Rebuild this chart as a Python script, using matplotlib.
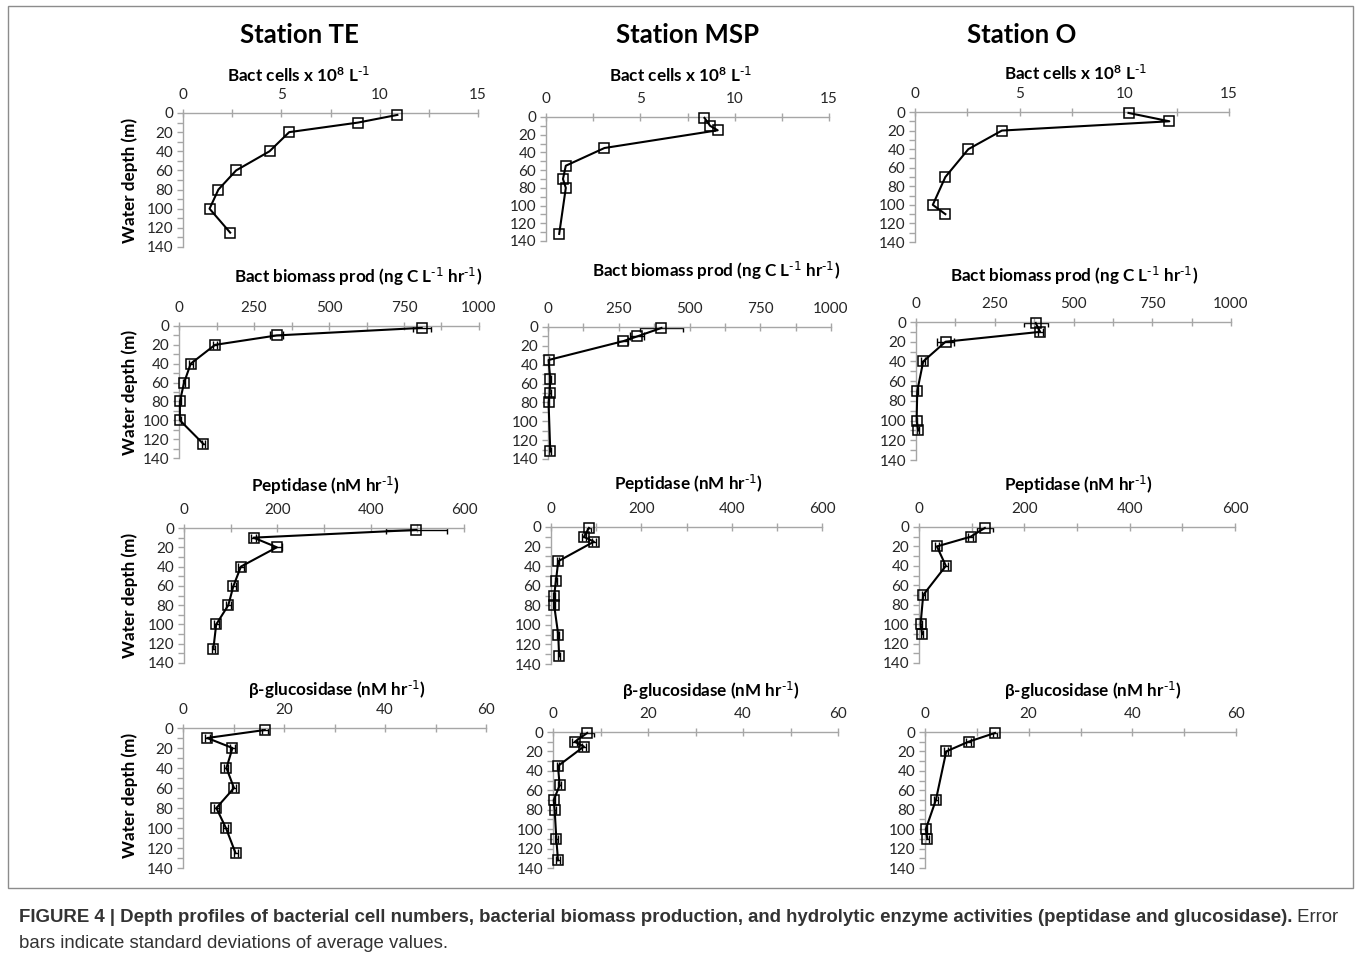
import matplotlib
matplotlib.use("Agg")
import matplotlib.pyplot as plt
from matplotlib.patches import Rectangle

plt.rcParams['font.family'] = ['Lato', 'DejaVu Sans']
plt.rcParams['mathtext.default'] = 'regular'

# ---------------- data ----------------
stations = ["Station TE", "Station MSP", "Station O"]

te_depth = [2, 10, 20, 40, 60, 80, 100, 125]
msp_depth = [1, 10, 15, 35, 55, 70, 80, 132]
msp_depth_enz = [1, 10, 15, 35, 55, 70, 80, 110, 132]
o_depth = [1, 10, 20, 40, 70, 100, 110]
o_depth_glu = [1, 10, 20, 70, 100, 110]

te_cells = [10.9, 8.9, 5.4, 4.4, 2.7, 1.8, 1.35, 2.4]
msp_cells = [8.4, 8.7, 9.1, 3.1, 1.05, 0.9, 1.05, 0.7]
o_cells = [10.2, 12.15, 4.15, 2.55, 1.45, 0.85, 1.45]

te_bbp = [809, 326, 120, 39, 17, 3, 3, 81]
te_bbp_err = [30, 22, 8, 6, 4, 2, 2, 6]
msp_bbp = [401, 315, 266, 2, 8, 6, 2, 8]
msp_bbp_err = [75, 25, 18, 2, 3, 3, 2, 3]
o_bbp = [380, 394, 94, 23, 4, 2, 7]
o_bbp_err = [38, 8, 28, 6, 3, 2, 3]

te_pep = [498, 149, 199, 122, 106, 95, 69, 63]
te_pep_err = [65, 6, 10, 6, 5, 5, 5, 4]
msp_pep = [84, 73, 95, 16, 11, 7, 7, 16, 18]
msp_pep_err = [4, 4, 5, 2, 2, 2, 2, 2, 3]
o_pep = [125, 98, 34, 51, 8, 3, 6]
o_pep_err = [15, 5, 4, 5, 3, 2, 2]

te_glu = [16.2, 4.8, 9.8, 8.6, 10.1, 6.6, 8.5, 10.4]
te_glu_err = [0.6, 0.5, 0.5, 0.4, 0.4, 0.5, 0.5, 0.4]
msp_glu = [7.2, 4.6, 6.5, 1.05, 1.4, 0.15, 0.35, 0.7, 1.05]
msp_glu_err = [1.5, 0.5, 0.5, 0.3, 0.3, 0.3, 0.3, 0.3, 0.4]
o_glu = [13.5, 8.4, 4.1, 2.1, 0.15, 0.45]
o_glu_err = [0.4, 0.5, 0.4, 0.4, 0.3, 0.4]

titles = [r"Bact cells x 10$^{8}$ L$^{\text{-1}}$",
          r"Bact biomass prod (ng C L$^{\text{-1}}$ hr$^{\text{-1}}$)",
          r"Peptidase (nM hr$^{\text{-1}}$)",
          r"β-glucosidase (nM hr$^{\text{-1}}$)"]
xmax = [15, 1000, 600, 60]
xstep = [5, 250, 200, 20]

caption_bold = ("FIGURE 4 | Depth profiles of bacterial cell numbers, bacterial biomass production, "
                "and hydrolytic enzyme activities (peptidase and glucosidase).")
caption_rest = " Error"
caption_line2 = "bars indicate standard deviations of average values."

# ---------------- layout ----------------
W, H = 1360, 964
fig = plt.figure(figsize=(W / 100, H / 100), dpi=100)

def ax_px(x0, x1, y0, y1):
    return fig.add_axes([x0 / W, 1 - y1 / H, (x1 - x0) / W, (y1 - y0) / H])

boxes = [
    [(183, 478, 113, 247), (546, 829, 117, 241), (915, 1229, 112, 242)],
    [(179, 479, 326, 458), (548, 831, 327, 459), (916, 1231, 322, 460)],
    [(184, 464, 528, 663), (551, 822, 527, 664), (919, 1235, 527, 663)],
    [(183, 486, 728, 868), (553, 838, 732, 868), (925, 1236, 732, 868)],
]
title_pos = [
    [(298, 75), (680, 75), (1075, 73)],
    [(358, 277), (716, 271), (1074, 276)],
    [(325, 486), (688, 484), (1078, 485)],
    [(337, 690), (711, 691), (1093, 691)],
]
ylabel_y = [180, 392, 595, 795]

series = [
    [(te_depth, te_cells, None), (msp_depth, msp_cells, None), (o_depth, o_cells, None)],
    [(te_depth, te_bbp, te_bbp_err), (msp_depth, msp_bbp, msp_bbp_err), (o_depth, o_bbp, o_bbp_err)],
    [(te_depth, te_pep, te_pep_err), (msp_depth_enz, msp_pep, msp_pep_err), (o_depth, o_pep, o_pep_err)],
    [(te_depth, te_glu, te_glu_err), (msp_depth_enz, msp_glu, msp_glu_err), (o_depth_glu, o_glu, o_glu_err)],
]

GRAY = "#a6a6a6"
TXT = "#262626"

for r in range(4):
    for c in range(3):
        ax = ax_px(*boxes[r][c])
        d, v, e = series[r][c]
        if e is not None:
            ax.errorbar(v, d, xerr=e, fmt='none', ecolor='black', elinewidth=1.0,
                        capsize=3, capthick=1.0, zorder=2)
        ax.plot(v, d, color='black', lw=1.5, marker='s', markersize=7.5,
                markerfacecolor='none', markeredgecolor='black', markeredgewidth=1.1,
                zorder=3, clip_on=False)
        ax.set_xlim(0, xmax[r])
        ax.set_ylim(140, 0)
        for s in ['right', 'bottom']:
            ax.spines[s].set_visible(False)
        for s in ['left', 'top']:
            ax.spines[s].set_color(GRAY)
            ax.spines[s].set_linewidth(1.0)
        ax.xaxis.tick_top()
        half = xstep[r] / 2
        n = int(round(xmax[r] / half))
        xt = [i * half for i in range(n + 1)]
        ax.set_xticks(xt)
        ax.set_xticklabels([f"{int(t)}" if i % 2 == 0 else "" for i, t in enumerate(xt)])
        ax.set_yticks(list(range(0, 141, 10)))
        ax.set_yticklabels([f"{t}" if t % 20 == 0 else "" for t in range(0, 141, 10)])
        ax.tick_params(axis='x', direction='inout', length=6, width=1.0, color=GRAY,
                       labelsize=11, labelcolor=TXT, pad=5)
        ax.tick_params(axis='y', direction='out', length=4, width=1.0, color=GRAY,
                       labelsize=11, labelcolor=TXT, pad=3)
        ax.patch.set_alpha(0)
        tx, ty = title_pos[r][c]
        fig.text(tx / W, 1 - ty / H, titles[r], ha='center', va='center',
                 fontsize=12.3, fontweight='bold', color='black')
    fig.text(130 / W, 1 - ylabel_y[r] / H, "Water depth (m)", rotation=90,
             ha='center', va='center', fontsize=12.3, fontweight='bold', color='black')

for name, x in zip(stations, [299, 688, 1022]):
    fig.text(x / W, 1 - 35 / H, name, ha='center', va='center', fontsize=18.5,
             fontweight='bold', color='black')

# frame
fig.patches.append(Rectangle((8 / W, 1 - 888 / H), (1353 - 8) / W, (888 - 6) / H,
                             transform=fig.transFigure, fill=False,
                             edgecolor='#8c8c8c', linewidth=1.0))

# caption
cap_font = ['Liberation Sans', 'DejaVu Sans']
cap_size = 13.4
t1 = fig.text(19 / W, 1 - 917 / H, caption_bold, ha='left', va='center', fontsize=cap_size,
              fontweight='bold', color='#333333', family=cap_font)
fig.canvas.draw()
bb = t1.get_window_extent()
fig.text(bb.x1 / W, 1 - 917 / H, caption_rest, ha='left', va='center', fontsize=cap_size,
         color='#333333', family=cap_font)
fig.text(19 / W, 1 - 943 / H, caption_line2, ha='left', va='center', fontsize=cap_size,
         color='#333333', family=cap_font)

fig.savefig("out.png", dpi=100, facecolor='white')
